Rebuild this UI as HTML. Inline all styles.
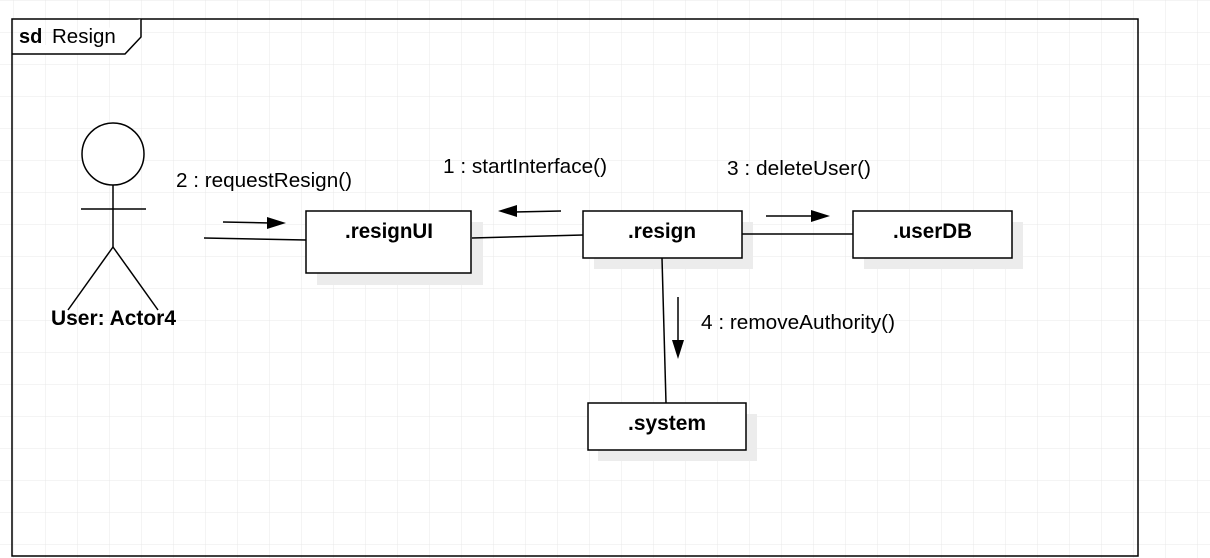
<!DOCTYPE html>
<html><head><style>
html,body{margin:0;padding:0;background:#fff}
svg{display:block}
text{font-family:"Liberation Sans",Arial,sans-serif;fill:#000}
</style></head><body>
<svg width="1210" height="558" viewBox="0 0 1210 558" xmlns="http://www.w3.org/2000/svg">
<defs>
<pattern id="g" x="13" y="0" width="32" height="32" patternUnits="userSpaceOnUse">
<path d="M0 0H32M0 0V32" stroke="#e8e8e8" stroke-width="1" fill="none"/>
</pattern>
</defs>
<rect width="1210" height="558" fill="url(#g)"/>
<rect x="12" y="19" width="1126" height="537" fill="none" stroke="#000" stroke-width="1.5"/>
<path d="M12 54H125L141 37V19" fill="#fff" stroke="#000" stroke-width="1.5"/>
<text x="19" y="43" font-size="20" font-weight="bold">sd</text>
<text x="52" y="43" font-size="20.5">Resign</text>
<g stroke="#000" stroke-width="1.5" fill="none">
<circle cx="113" cy="154" r="31" fill="#fff"/>
<line x1="113" y1="185" x2="113" y2="247"/>
<line x1="81" y1="209" x2="146" y2="209"/>
<line x1="113" y1="247" x2="68" y2="310"/>
<line x1="113" y1="247" x2="158" y2="310"/>
</g>
<text x="51" y="325" font-size="21" font-weight="bold" textLength="125" lengthAdjust="spacingAndGlyphs">User: Actor4</text>
<g fill="#ececec">
<rect x="317" y="222" width="166" height="63"/>
<rect x="594" y="222" width="159" height="47"/>
<rect x="864" y="222" width="159" height="47"/>
<rect x="598" y="414" width="159" height="47"/>
</g>
<g stroke="#000" stroke-width="1.5" fill="none">
<line x1="204" y1="238" x2="306" y2="240"/>
<line x1="472" y1="238" x2="583" y2="235"/>
<line x1="742" y1="234" x2="853" y2="234"/>
<line x1="662" y1="258" x2="666" y2="403"/>
<line x1="223" y1="222" x2="270" y2="223"/>
<line x1="561" y1="211" x2="514" y2="212"/>
<line x1="766" y1="216" x2="814" y2="216"/>
<line x1="678" y1="297" x2="678" y2="344"/>
</g>
<g fill="#000">
<polygon points="286,223 267,217 267,229"/>
<polygon points="498,211 517,205 517,217"/>
<polygon points="830,216 811,210 811,222"/>
<polygon points="678,359 672,340 684,340"/>
</g>
<g fill="#fff" stroke="#000" stroke-width="1.5">
<rect x="306" y="211" width="165" height="62"/>
<rect x="583" y="211" width="159" height="47"/>
<rect x="853" y="211" width="159" height="47"/>
<rect x="588" y="403" width="158" height="47"/>
</g>
<g font-size="20.8" font-weight="bold">
<text x="345" y="238" textLength="88" lengthAdjust="spacingAndGlyphs">.resignUI</text>
<text x="628" y="238" textLength="68" lengthAdjust="spacingAndGlyphs">.resign</text>
<text x="893" y="238" textLength="79" lengthAdjust="spacingAndGlyphs">.userDB</text>
<text x="628" y="430" textLength="78" lengthAdjust="spacingAndGlyphs">.system</text>
</g>
<g font-size="20.6">
<text x="176" y="187" textLength="176" lengthAdjust="spacingAndGlyphs">2 : requestResign()</text>
<text x="443" y="173" textLength="164" lengthAdjust="spacingAndGlyphs">1 : startInterface()</text>
<text x="727" y="175" textLength="144" lengthAdjust="spacingAndGlyphs">3 : deleteUser()</text>
<text x="701" y="329" textLength="194" lengthAdjust="spacingAndGlyphs">4 : removeAuthority()</text>
</g>
</svg>
</body></html>
